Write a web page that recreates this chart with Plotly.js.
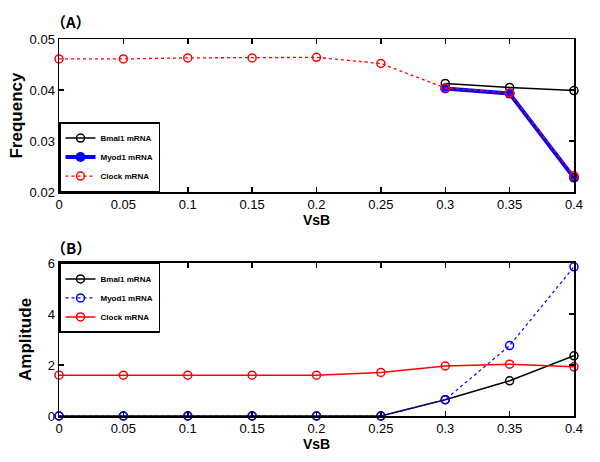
<!DOCTYPE html>
<html><head><meta charset="utf-8">
<script src="https://cdn.plot.ly/plotly-3.0.1.min.js"></script>
<style>body{margin:0;padding:0;background:#fff}#c{width:600px;height:462px}</style>
</head><body><div id="c"></div>
<script>
const vsb = [0, 0.05, 0.1, 0.15, 0.2, 0.25, 0.3, 0.35, 0.4];
const seriesNames = ["Bmal1 mRNA", "Myod1 mRNA", "Clock mRNA"];
// Panel A: frequency
const freqBmal1 = [null, null, null, null, null, null, 0.0413, 0.0405, 0.0399];
const freqMyod1 = [null, null, null, null, null, null, 0.0403, 0.0393, 0.0228];
const freqClock = [0.0461, 0.0461, 0.0463, 0.0463, 0.0464, 0.0452, 0.0404, 0.0394, 0.0232];
// Panel B: amplitude
const ampBmal1 = [0, 0, 0, 0, 0, 0, 0.64, 1.38, 2.36];
const ampMyod1 = [0, 0, 0, 0, 0, 0, 0.64, 2.76, 5.85];
const ampClock = [1.60, 1.60, 1.60, 1.60, 1.60, 1.71, 1.96, 2.03, 1.93];

const traces = [
  {x: vsb, y: freqBmal1, name: seriesNames[0], xaxis: 'x', yaxis: 'y', mode: 'lines+markers', cliponaxis: false,
   line: {color: 'black', width: 1.5}, marker: {symbol: 'circle-open', size: 8, color: 'black', line: {width: 1.5}}, legend: 'legend'},
  {x: vsb, y: freqMyod1, name: seriesNames[1], xaxis: 'x', yaxis: 'y', mode: 'lines+markers', cliponaxis: false,
   line: {color: 'blue', width: 4}, marker: {symbol: 'circle', size: 10, color: 'blue'}, legend: 'legend'},
  {x: vsb, y: freqClock, name: seriesNames[2], xaxis: 'x', yaxis: 'y', mode: 'lines+markers', cliponaxis: false,
   line: {color: 'red', width: 1.3, dash: 'dot'}, marker: {symbol: 'circle-open', size: 8, color: 'red', line: {width: 1.5}}, legend: 'legend'},
  {x: vsb, y: ampBmal1, name: seriesNames[0], xaxis: 'x2', yaxis: 'y2', mode: 'lines+markers', cliponaxis: false,
   line: {color: 'black', width: 1.5}, marker: {symbol: 'circle-open', size: 8, color: 'black', line: {width: 1.5}}, legend: 'legend2'},
  {x: vsb, y: ampMyod1, name: seriesNames[1], xaxis: 'x2', yaxis: 'y2', mode: 'lines+markers', cliponaxis: false,
   line: {color: 'blue', width: 1.2, dash: 'dot'}, marker: {symbol: 'circle-open', size: 8, color: 'blue', line: {width: 1.5}}, legend: 'legend2'},
  {x: vsb, y: ampClock, name: seriesNames[2], xaxis: 'x2', yaxis: 'y2', mode: 'lines+markers', cliponaxis: false,
   line: {color: 'red', width: 1.5}, marker: {symbol: 'circle-open', size: 8, color: 'red', line: {width: 1.5}}, legend: 'legend2'}
];

const FAM = '"Liberation Sans", Arial, sans-serif';
const tickFont = {family: FAM, size: 13, color: 'black'};
const yTitleFont = {family: FAM, size: 17, color: 'black', weight: 'bold'};
const xTitleFont = {family: FAM, size: 14, color: 'black', weight: 'bold'};
const axBase = {
  showline: true, linecolor: 'black', linewidth: 1.5, mirror: 'ticks', ticks: 'inside', ticklen: 5,
  tickcolor: 'black', tickwidth: 1.5, showgrid: false, zeroline: false, tickfont: tickFont
};
const legendBase = {
  font: {family: FAM, size: 8, color: 'black', weight: 'bold'},
  bordercolor: 'black', borderwidth: 1.5, bgcolor: 'white', x: 0, xanchor: 'left',
  itemwidth: 30, tracegroupgap: 0
};
const panelFont = {family: '"Noto Sans CJK SC", "Liberation Sans", sans-serif', size: 15, color: 'black', weight: 'bold'};

const layout = {
  width: 600, height: 462, paper_bgcolor: 'white', plot_bgcolor: 'white',
  margin: {l: 59, r: 26, t: 39, b: 46},
  showlegend: true,
  xaxis: Object.assign({}, axBase, {domain: [0, 1], range: [0, 0.4], dtick: 0.05, anchor: 'y',
    title: {text: 'VsB', font: xTitleFont, standoff: 0}}),
  yaxis: Object.assign({}, axBase, {domain: [0.594, 1], range: [0.02, 0.05], dtick: 0.01, anchor: 'x',
    title: {text: 'Frequency', font: yTitleFont, standoff: 2}}),
  xaxis2: Object.assign({}, axBase, {domain: [0, 1], range: [0, 0.4], dtick: 0.05, anchor: 'y2',
    title: {text: 'VsB', font: xTitleFont, standoff: 1}}),
  yaxis2: Object.assign({}, axBase, {domain: [0, 0.406], range: [0, 6], dtick: 2, anchor: 'x2',
    title: {text: 'Amplitude', font: yTitleFont, standoff: 11}}),
  legend: Object.assign({}, legendBase, {y: 0.594, yanchor: 'bottom'}),
  legend2: Object.assign({}, legendBase, {y: 0.406, yanchor: 'top'}),
  annotations: [
    {text: '（A）', xref: 'paper', yref: 'paper', x: 0, xshift: -10, y: 1.0, yshift: 18, xanchor: 'left', yanchor: 'middle', showarrow: false, font: panelFont},
    {text: '（B）', xref: 'paper', yref: 'paper', x: 0, xshift: -10, y: 0.406, yshift: 15, xanchor: 'left', yanchor: 'middle', showarrow: false, font: panelFont}
  ]
};

Plotly.newPlot('c', traces, layout, {displayModeBar: false, staticPlot: true});
</script></body></html>
